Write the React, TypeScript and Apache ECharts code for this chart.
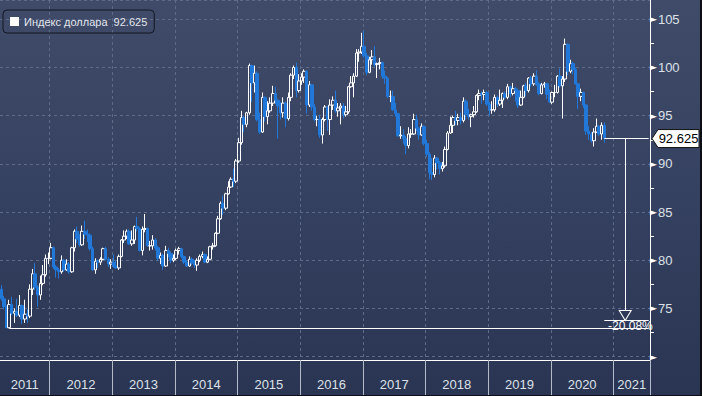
import React, { useEffect, useRef } from "react";
import * as echarts from "echarts";

// ---- data (half-month candles, open = previous close) ----
const FIRST_OPEN = 77.0;
const closes = [
  76.0, 75.2, 73.0, 75.4, 74.5, 74.7, 74.3, 75.3, 73.9, 74.4, 74.2, 77.0, 78.6, 77.2, 76.4, 77.6, 78.5, 80.2, 80.2,
  81.3, 79.3, 79.0, 78.8, 80.0, 79.0, 79.6, 78.8, 81.3, 83.0, 82.2, 81.6, 83.0, 82.7, 82.6, 81.2, 79.0, 79.9, 79.8, 80.1, 81.2, 80.1, 79.6, 79.8,
  79.4, 79.2, 80.4, 82.1, 82.5, 83.0, 81.7, 82.1, 83.5, 83.3, 81.0, 83.2, 83.3, 81.5, 81.5, 82.1, 81.3, 80.2, 80.5, 79.4, 81.0, 80.7, 80.0, 80.2,
  81.0, 81.2, 80.4, 79.8, 79.4, 80.1, 79.7, 79.5, 80.0, 80.4, 80.6, 79.8, 80.1, 81.4, 81.5, 82.8, 84.3, 85.9, 85.4, 86.9, 87.6, 88.4, 88.2, 90.3,
  92.2, 94.8, 94.1, 95.3, 100.2, 98.4, 99.4, 94.6, 93.3, 96.9, 94.9, 95.5, 96.3, 97.3, 96.6, 96.0, 95.3, 96.3, 94.7, 96.9, 99.2, 100.0, 97.6, 98.6,
  99.0, 99.6, 96.1, 98.2, 95.9, 94.6, 94.6, 93.0, 94.6, 95.9, 94.6, 96.1, 96.6, 95.5, 95.8, 96.0, 95.1, 95.4, 98.0, 98.4, 99.1, 101.5, 101.6, 102.2,
  101.2, 99.5, 100.8, 101.1, 100.3, 100.4, 100.5, 99.1, 98.9, 97.0, 97.0, 95.6, 95.2, 92.9, 93.0, 92.6, 91.9, 93.1, 93.1, 94.6, 93.7, 93.0, 93.9, 92.1,
  91.0, 89.1, 88.9, 90.6, 90.1, 89.5, 89.8, 91.5, 93.2, 94.0, 94.8, 94.5, 94.8, 94.5, 96.5, 95.1, 94.9, 95.1, 95.4, 97.1, 97.3, 97.2, 97.4, 96.2,
  95.6, 95.6, 96.9, 96.2, 96.6, 97.3, 96.9, 98.0, 97.3, 97.8, 97.6, 96.1, 96.9, 98.1, 97.6, 98.9, 98.3, 99.1, 98.3, 97.3, 98.2, 98.3, 97.2, 96.4,
  97.4, 97.4, 99.1, 98.1, 98.8, 102.4, 99.6, 100.4, 99.8, 98.3, 97.0, 97.4, 96.1, 93.4, 93.1, 92.4, 93.3, 93.9, 93.1, 94.0, 92.625,
];
const highs = [
  77.4, 76.3, 75.3, 75.9, 76.2, 75.0, 76.0, 76.4, 75.4, 75.9, 74.9, 77.5, 79.1, 79.7, 77.4, 78.4, 79.5, 80.6, 80.8,
  81.8, 81.4, 79.5, 79.2, 80.5, 80.1, 80.1, 79.8, 81.4, 83.2, 83.5, 82.7, 83.6, 84.1, 83.2, 82.8, 81.4, 80.2, 80.1, 80.3, 81.3, 81.4, 80.3, 80.1,
  80.6, 80.0, 80.6, 82.2, 83.1, 83.2, 83.2, 83.1, 83.6, 84.5, 83.4, 83.5, 84.8, 83.4, 82.0, 82.6, 82.3, 81.5, 80.8, 80.7, 81.5, 81.3, 80.9, 80.6,
  81.2, 81.4, 81.3, 80.5, 80.0, 80.4, 80.3, 80.0, 80.2, 80.6, 80.9, 80.7, 80.4, 81.5, 81.8, 82.9, 84.6, 86.1, 86.7, 87.0, 88.2, 88.6, 89.5, 90.5,
  92.7, 95.5, 95.0, 95.4, 100.4, 100.3, 100.2, 99.6, 95.3, 97.4, 97.0, 96.5, 96.9, 98.1, 98.0, 96.7, 96.4, 96.9, 96.5, 97.4, 99.4, 100.2, 100.5, 99.3,
  99.4, 99.8, 99.7, 98.6, 98.3, 96.2, 95.0, 95.1, 94.8, 96.1, 96.0, 96.7, 97.0, 97.6, 96.3, 96.3, 96.3, 96.0, 98.1, 99.1, 99.4, 101.9, 101.9, 103.6,
  103.8, 101.5, 101.1, 101.8, 102.2, 100.5, 101.0, 100.6, 99.7, 99.0, 97.6, 97.6, 96.3, 95.3, 93.9, 93.6, 92.9, 93.8, 93.6, 95.2, 95.1, 93.8, 94.2, 94.0,
  92.5, 91.2, 90.6, 90.9, 90.7, 90.3, 90.2, 91.8, 93.4, 94.9, 95.0, 95.5, 95.2, 95.3, 96.9, 96.7, 95.7, 95.2, 96.0, 97.2, 97.7, 97.5, 97.7, 97.6,
  96.4, 96.5, 97.2, 97.1, 97.7, 97.4, 97.5, 98.3, 98.1, 98.4, 98.0, 97.8, 97.6, 98.2, 98.4, 99.0, 99.1, 99.4, 99.7, 98.5, 98.4, 98.5, 98.4, 97.7,
  97.5, 98.2, 99.2, 99.9, 99.1, 103.0, 102.5, 100.8, 100.6, 100.0, 98.4, 97.8, 97.5, 96.2, 93.9, 93.3, 93.7, 94.7, 94.0, 94.3, 94.3,
];
const lows = [
  75.8, 74.9, 73.0, 72.95, 74.3, 73.5, 74.1, 74.1, 73.4, 73.5, 73.5, 74.0, 76.4, 76.9, 75.2, 75.9, 77.4, 78.3, 79.6,
  80.1, 79.1, 78.2, 78.1, 78.6, 78.8, 78.9, 78.6, 78.7, 80.9, 81.8, 81.4, 81.5, 82.2, 81.9, 81.0, 78.9, 78.6, 79.2, 79.5, 80.0, 80.0, 79.3, 79.1,
  79.2, 79.1, 79.0, 80.3, 81.8, 82.2, 81.6, 81.5, 81.7, 83.0, 80.9, 80.5, 82.9, 81.4, 81.0, 81.1, 81.0, 79.9, 79.6, 79.0, 79.3, 80.3, 79.7, 79.8,
  80.0, 80.6, 80.2, 79.6, 79.3, 79.3, 79.5, 79.2, 78.9, 79.8, 80.2, 79.7, 79.7, 80.0, 81.1, 81.4, 82.7, 84.2, 84.7, 85.2, 86.8, 87.5, 87.6, 88.0,
  90.1, 92.0, 93.3, 93.8, 95.1, 96.4, 97.4, 94.4, 93.1, 93.2, 94.4, 94.1, 95.3, 96.0, 96.2, 92.6, 94.6, 94.8, 93.8, 94.5, 96.5, 98.8, 96.9, 97.4,
  98.2, 98.4, 95.2, 95.9, 95.5, 94.4, 93.9, 92.7, 92.1, 94.4, 93.4, 93.0, 95.6, 95.3, 94.9, 94.1, 94.7, 94.9, 95.2, 97.9, 96.9, 99.0, 100.6, 101.4,
  101.0, 99.2, 99.4, 100.3, 100.1, 98.9, 99.8, 98.8, 98.3, 96.8, 96.4, 95.5, 94.9, 92.8, 92.6, 92.1, 91.0, 91.6, 92.7, 93.0, 93.4, 92.5, 92.9, 91.9,
  90.7, 88.4, 88.3, 88.6, 89.4, 88.9, 89.2, 89.6, 91.4, 93.1, 93.2, 94.0, 94.0, 94.1, 94.3, 94.6, 94.6, 93.8, 94.8, 95.3, 96.6, 96.2, 96.6, 96.0,
  95.0, 95.2, 95.4, 95.9, 96.0, 95.8, 96.7, 96.7, 96.9, 97.1, 96.5, 95.8, 96.0, 96.8, 97.0, 97.4, 98.0, 98.1, 98.1, 97.1, 97.2, 97.9, 96.7, 96.3,
  96.2, 96.9, 97.3, 97.9, 94.7, 98.5, 99.2, 99.4, 99.3, 98.2, 95.7, 96.5, 95.8, 93.0, 92.5, 92.2, 91.8, 93.2, 92.9, 92.5, 92.2,
];
const YEAR_LABELS = ["2011", "2012", "2013", "2014", "2015", "2016", "2017", "2018", "2019", "2020", "2021"];
const SERIES_NAME = "Индекс доллара";
const LOW_LEVEL = 72.95;
const TARGET_LEVEL = 73.75;
const CHANGE_LABEL = "-20.08%";
const Y_MIN = 69.65;
const Y_MAX = 107.0;

const FONT = "'Liberation Sans', Arial, sans-serif";

// ---- category axis: half-month periods, Mar 2011 (2nd half) .. Jul 2021 (2nd half) ----
const categories: string[] = [];
const yearStart: Record<string, number> = {};
for (let y = 2011; y <= 2021; y++) {
  for (let m = 0; m < 12; m++) {
    for (let h = 0; h < 2; h++) {
      const key = y * 24 + m * 2 + h;
      if (key < 2011 * 24 + 2 * 2 + 1 || key > 2021 * 24 + 6 * 2 + 1) continue;
      if (yearStart[String(y)] === undefined) yearStart[String(y)] = categories.length;
      categories.push(`${y}-${m + 1}-${h + 1}`);
    }
  }
}
const boundarySet = new Set<number>();
YEAR_LABELS.forEach((y) => {
  if (y !== "2011") boundarySet.add(yearStart[y]);
});
const labelMap: Record<number, string> = {};
YEAR_LABELS.forEach((y, k) => {
  const s = yearStart[y];
  const e = k + 1 < YEAR_LABELS.length ? yearStart[YEAR_LABELS[k + 1]] : categories.length;
  const c = (s + e) / 2 - 0.5;
  const i = Math.floor(c);
  labelMap[i] = c > i ? `{p|${y}}` : `{n|${y}}`;
});

const candleData = closes.map((c, i) => {
  const o = i === 0 ? FIRST_OPEN : closes[i - 1];
  return [o, c, Math.min(lows[i], o, c), Math.max(highs[i], o, c)];
});
const LAST = closes[closes.length - 1];
const LAST_IDX = closes.length - 1;
const RIGHT_IDX = categories.length - 1;

export default function App() {
  const ref = useRef<HTMLDivElement>(null);
  useEffect(() => {
    document.body.style.margin = "0";
    if (!ref.current) return;
    const chart = echarts.init(ref.current, undefined, { renderer: "svg" });
    const gridLine = { color: "#5d6b88", type: [3, 3] as any, width: 1 };
    chart.setOption({
      animation: false,
      backgroundColor: "transparent",
      textStyle: { fontFamily: FONT },
      legend: {
        left: 3,
        top: 10,
        padding: [6, 7, 6, 7],
        itemWidth: 9,
        itemHeight: 9,
        selectedMode: false,
        backgroundColor: "transparent",
        borderColor: "#131722",
        borderWidth: 1,
        borderRadius: 4,
        textStyle: { color: "#e2e5ec", fontSize: 11, fontFamily: FONT },
        formatter: (name: string) => `${name}  ${LAST.toFixed(3)}`,
        data: [{ name: SERIES_NAME, icon: "rect", itemStyle: { color: "#ffffff", borderWidth: 0 } }],
      },
      grid: { left: 0, right: 50, top: -1, bottom: 35, containLabel: false },
      xAxis: {
        type: "category",
        data: categories,
        boundaryGap: true,
        axisLine: { show: true, lineStyle: { color: "#ffffff", width: 1 } },
        axisTick: {
          show: true,
          interval: (i: number) => boundarySet.has(i),
          length: 36,
          lineStyle: { color: "#b3bac8", width: 1 },
        },
        axisLabel: {
          show: true,
          interval: (i: number) => labelMap[i] !== undefined,
          formatter: (_v: string, i: number) => labelMap[i] || "",
          margin: 18,
          color: "#dde1e8",
          fontSize: 13,
          fontFamily: FONT,
          rich: {
            p: { padding: [0, 0, 0, 2.6], fontSize: 13, color: "#dde1e8", fontFamily: FONT },
            n: { fontSize: 13, color: "#dde1e8", fontFamily: FONT },
          },
        },
        splitLine: { show: true, interval: (i: number) => boundarySet.has(i), lineStyle: gridLine },
      },
      yAxis: {
        type: "value",
        position: "right",
        min: Y_MIN,
        max: Y_MAX,
        minInterval: 5,
        maxInterval: 5,
        splitNumber: 8,
        axisLine: { show: true, lineStyle: { color: "#ffffff", width: 1 } },
        axisTick: { show: false },
        minorTick: { show: true, splitNumber: 2, length: 4, lineStyle: { color: "#ffffff", width: 1 } },
        splitLine: { show: true, lineStyle: gridLine },
        axisLabel: {
          margin: 0,
          formatter: (v: number) => {
            const r = Math.round(v);
            if (Math.abs(v - r) > 1e-6 || r % 5 !== 0) return "";
            if (r === 70) return "{a|►}";
            return `{a|►}{b|${r}}`;
          },
          rich: {
            a: { fontSize: 9, color: "#ffffff", verticalAlign: "middle", padding: [0, 1, 0, 0], fontFamily: "DejaVu Sans" },
            b: { fontSize: 13, color: "#dde1e8", verticalAlign: "middle", fontFamily: FONT },
          },
        },
      },
      series: [
        {
          name: SERIES_NAME,
          type: "candlestick",
          data: candleData,
          barWidth: 3,
          itemStyle: {
            color: "transparent",
            color0: "#2178d8",
            borderColor: "#ffffff",
            borderColor0: "#2178d8",
            borderWidth: 1,
          },
          markLine: {
            silent: true,
            symbol: ["none", "none"],
            label: { show: false },
            lineStyle: { color: "#ffffff", width: 1, type: "solid" },
            emphasis: { disabled: true },
            data: [
              [{ coord: [LAST_IDX, LAST] }, { coord: [RIGHT_IDX, LAST] }],
              [{ coord: [239, LAST] }, { coord: [239, TARGET_LEVEL] }],
              [{ coord: [LAST_IDX, TARGET_LEVEL] }, { coord: [RIGHT_IDX, TARGET_LEVEL] }],
              [{ coord: [3, LOW_LEVEL] }, { coord: [RIGHT_IDX, LOW_LEVEL] }],
            ],
          },
          markPoint: {
            silent: true,
            z: 10,
            data: [
              {
                coord: [239, TARGET_LEVEL],
                symbol: "path://M0,0L12,0L6,10Z",
                symbolSize: [12, 10],
                symbolOffset: [0, "-50%"],
                itemStyle: { color: "#2e3957", borderColor: "#ffffff", borderWidth: 1 },
                label: { show: false },
              },
              {
                coord: [240.6, LOW_LEVEL],
                symbol: "rect",
                symbolSize: 1,
                itemStyle: { color: "transparent" },
                label: {
                  show: true,
                  position: "inside",
                  offset: [0, -2],
                  formatter: CHANGE_LABEL,
                  color: "#ffffff",
                  fontSize: 12,
                  fontFamily: FONT,
                },
              },
            ],
          },
        },
      ],
    });
    const y = chart.convertToPixel({ yAxisIndex: 0 }, LAST) as number;
    chart.setOption({
      graphic: [
        {
          type: "polygon",
          shape: { points: [[652, y], [658, y - 9], [699, y - 9], [699, y + 9], [658, y + 9]] },
          style: { fill: "#ffffff", stroke: "#111111", lineWidth: 1 },
          z: 20,
        },
        {
          type: "text",
          x: 678.5,
          y: y,
          style: { text: LAST.toFixed(3), fill: "#000000", fontSize: 13, fontFamily: FONT, align: "center", verticalAlign: "middle" },
          z: 21,
        },
      ],
    });
    return () => chart.dispose();
  }, []);
  return (
    <div style={{ width: 702, height: 396, background: "#0c0e14", position: "relative" }}>
      <div
        style={{
          position: "absolute",
          left: 0,
          top: 0,
          width: 700,
          height: 395,
          background: "linear-gradient(180deg, #3f4b68 0%, #354160 50%, #2a3553 100%)",
        }}
      >
        <div ref={ref} style={{ width: 700, height: 395 }} />
      </div>
    </div>
  );
}
